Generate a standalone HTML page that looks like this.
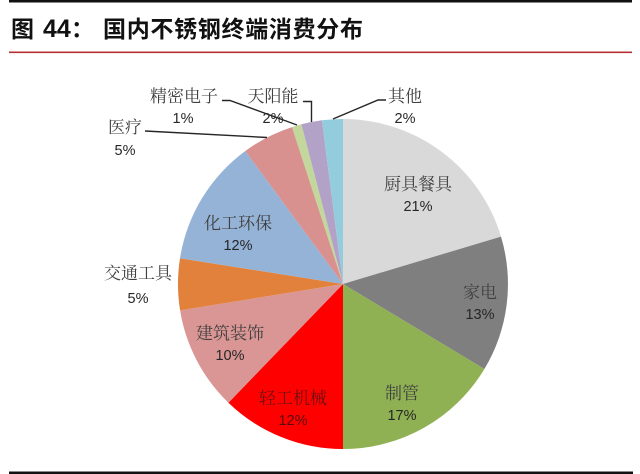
<!DOCTYPE html>
<html>
<head>
<meta charset="utf-8">
<style>
html,body{margin:0;padding:0;background:#fff;}
body{width:640px;height:474px;overflow:hidden;}
svg{display:block;}
.lbl{font-family:"Noto Serif CJK SC","Noto Serif CJK JP","Liberation Serif",serif;font-size:17px;fill:#404040;}
.pct{font-family:"Liberation Sans","Noto Sans CJK SC",sans-serif;font-size:14.5px;fill:#262626;}
</style>
</head>
<body>
<svg width="640" height="474" viewBox="0 0 640 474" xmlns="http://www.w3.org/2000/svg">
  <rect x="0" y="0" width="640" height="474" fill="#fff"/>
  <!-- top border -->
  <rect x="9" y="0" width="623" height="2.5" fill="#111"/>
  <!-- title -->
  <text x="11" y="37" style="font-family:'Noto Sans CJK SC',sans-serif;font-weight:700;font-size:23px;" fill="#111">图</text>
  <text x="43" y="37" style="font-family:'Liberation Sans',sans-serif;font-weight:700;font-size:25px;" fill="#111">44</text>
  <text x="71" y="37" style="font-family:'Noto Sans CJK SC',sans-serif;font-weight:700;font-size:23px;" fill="#111">：</text>
  <text x="103" y="37" textLength="260" lengthAdjust="spacing" style="font-family:'Noto Sans CJK SC',sans-serif;font-weight:700;font-size:23px;" fill="#111">国内不锈钢终端消费分布</text>
  <!-- red rule -->
  <rect x="9" y="51.5" width="623" height="1.6" fill="#b53030"/>

  <!-- pie slices: center (343,284) r=165 -->
  <g stroke="none">
    <path d="M343,284 L343,119 A165,165 0 0 1 501.0,236.6 Z" fill="#d9d9d9"/>
    <path d="M343,284 L501.0,236.6 A165,165 0 0 1 484.4,369.0 Z" fill="#7f7f7f"/>
    <path d="M343,284 L484.4,369.0 A165,165 0 0 1 343,449 Z" fill="#8fb153"/>
    <path d="M343,284 L343,449 A165,165 0 0 1 228.4,402.7 Z" fill="#ff0000"/>
    <path d="M343,284 L228.4,402.7 A165,165 0 0 1 180.1,310.4 Z" fill="#d99694"/>
    <path d="M343,284 L180.1,310.4 A165,165 0 0 1 180.0,258.2 Z" fill="#e2813b"/>
    <path d="M343,284 L180.0,258.2 A165,165 0 0 1 245.3,151.0 Z" fill="#95b3d7"/>
    <path d="M343,284 L245.3,151.0 A165,165 0 0 1 292.0,127.1 Z" fill="#d8918e"/>
    <path d="M343,284 L292.0,127.1 A165,165 0 0 1 301.4,124.3 Z" fill="#c3d69b"/>
    <path d="M343,284 L301.4,124.3 A165,165 0 0 1 322.0,120.3 Z" fill="#b3a2c7"/>
    <path d="M343,284 L322.0,120.3 A165,165 0 0 1 343,119 Z" fill="#93cddd"/>
  </g>

  <!-- leader lines -->
  <g stroke="#262626" stroke-width="1.4" fill="none">
    <polyline points="145,131 267,137.5"/>
    <polyline points="222,100.5 230,100.5 297,125"/>
    <polyline points="303,101.5 311.5,101.5 311.5,122"/>
    <polyline points="333,119 378,100 386,100"/>
  </g>

  <!-- labels -->
  <g text-anchor="middle">
    <text class="lbl" x="418" y="190">厨具餐具</text>
    <text class="pct" x="418" y="211">21%</text>

    <text class="lbl" x="480" y="298">家电</text>
    <text class="pct" x="480" y="319">13%</text>

    <text class="lbl" x="402" y="399">制管</text>
    <text class="pct" x="402" y="420">17%</text>

    <text class="lbl" x="293" y="404" style="fill:#6e1010">轻工机械</text>
    <text class="pct" x="293" y="425" style="fill:#5a0a0a">12%</text>

    <text class="lbl" x="230" y="339">建筑装饰</text>
    <text class="pct" x="230" y="360">10%</text>

    <text class="lbl" x="138" y="279">交通工具</text>
    <text class="pct" x="138" y="303">5%</text>

    <text class="lbl" x="238" y="229">化工环保</text>
    <text class="pct" x="238" y="250">12%</text>

    <text class="lbl" x="125" y="133">医疗</text>
    <text class="pct" x="125" y="155">5%</text>

    <text class="lbl" x="184" y="102">精密电子</text>
    <text class="pct" x="183" y="123">1%</text>

    <text class="lbl" x="273" y="102">天阳能</text>
    <text class="pct" x="273" y="123">2%</text>

    <text class="lbl" x="405" y="102">其他</text>
    <text class="pct" x="405" y="123">2%</text>
  </g>

  <!-- bottom border -->
  <rect x="9" y="471.5" width="624" height="2.5" fill="#111"/>
</svg>
</body>
</html>
